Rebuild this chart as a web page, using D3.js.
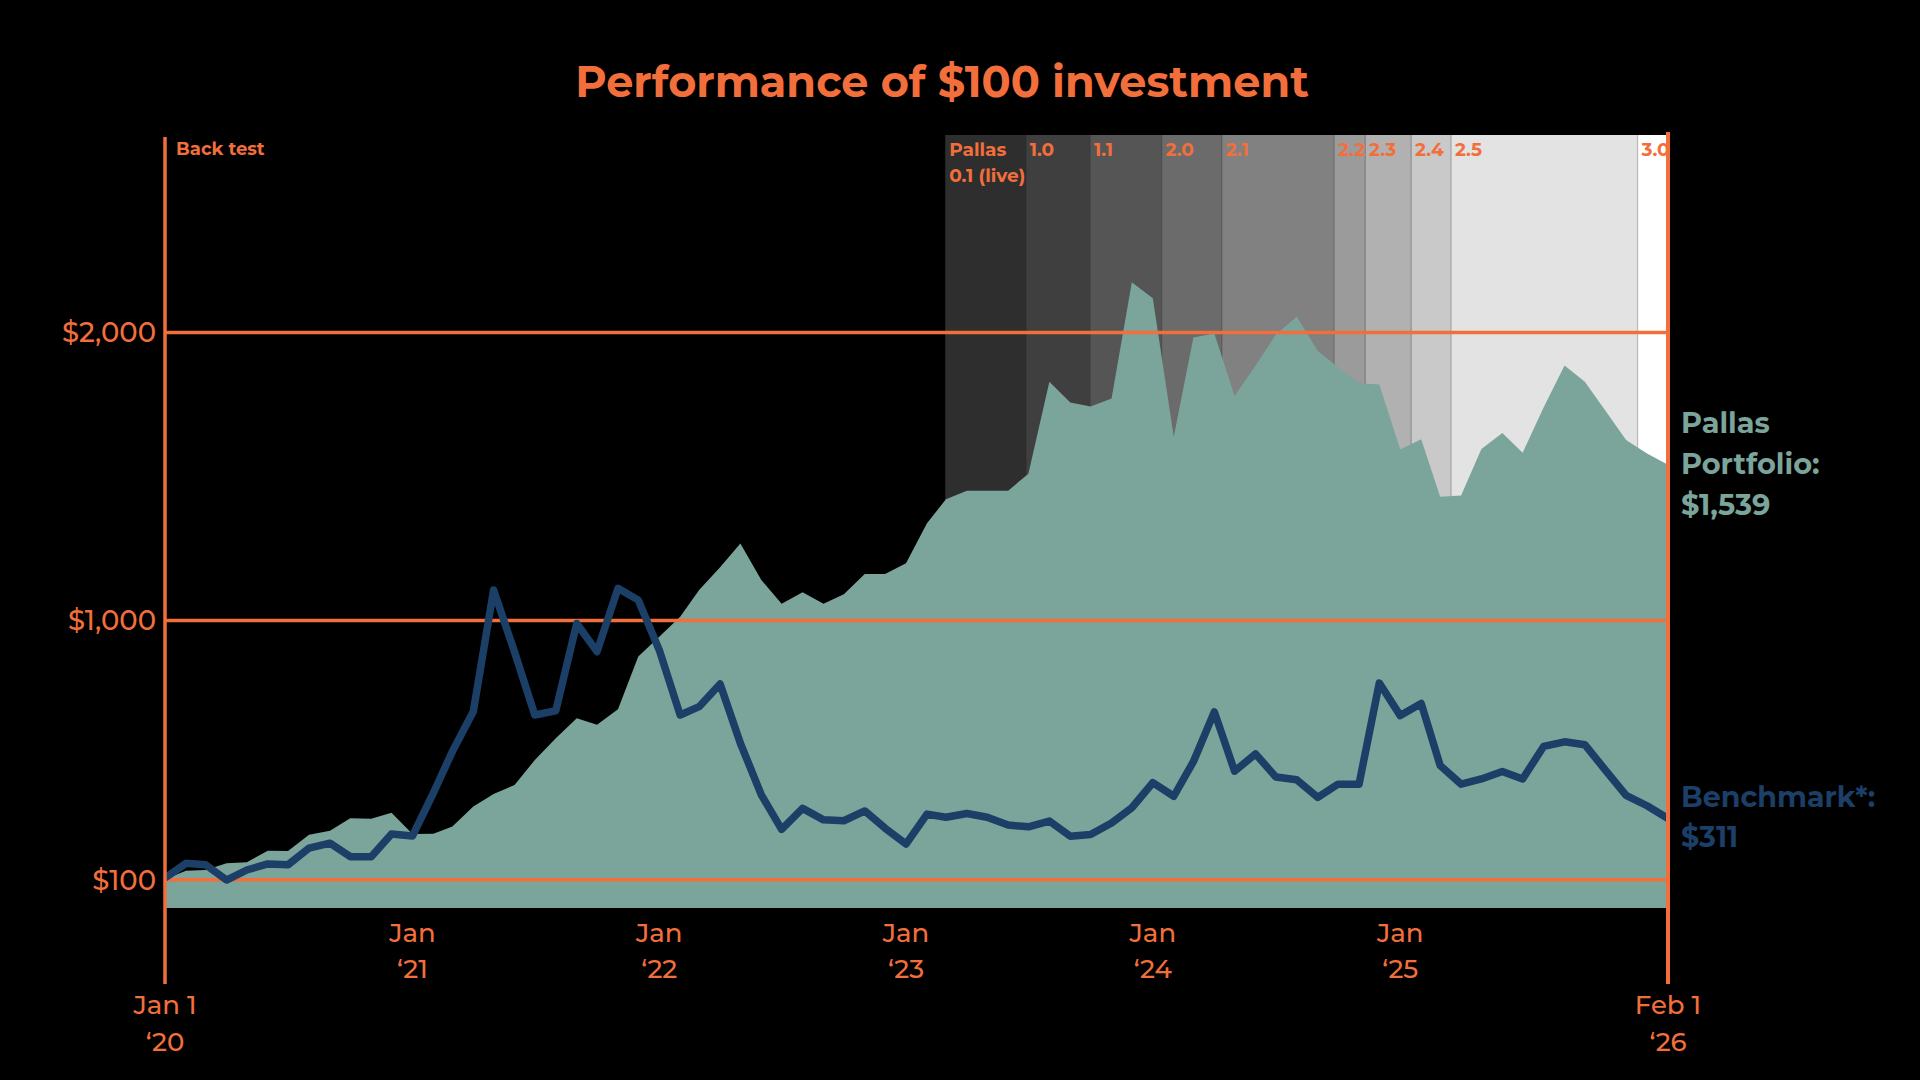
<!DOCTYPE html>
<html>
<head>
    <meta charset="utf-8">
    <script src="https://d3js.org/d3.v7.min.js"></script>
    <title>Performance of $100 investment</title>
    <style>
        body { margin: 0; background: #000; }
        svg text { font-family: Montserrat, "Open Sans", sans-serif; }
    </style>
</head>
<body>
<svg id="chart"></svg>
<script>
// monthly values, Jan 2020 .. Feb 2026
const startMonth = "2020-01-01";
const pallas = [100, 129, 132, 155, 159, 199, 198, 254, 268, 312, 310, 331,
                257, 258, 283, 352, 396, 427, 514, 589, 659, 636, 690, 873,
                942, 1011, 1104, 1183, 1266, 1139, 1056, 1096, 1056, 1089, 1160, 1160,
                1197, 1336, 1419, 1449, 1449, 1449, 1508, 1827, 1755, 1741, 1769, 2173,
                2117, 1636, 1981, 1995, 1778, 1884, 1991, 2053, 1934, 1878, 1822, 1818,
                1592, 1628, 1428, 1432, 1594, 1649, 1581, 1738, 1884, 1827, 1725, 1625,
                1578, 1539];
const benchmark = [104, 155, 150, 97, 132, 153, 150, 208, 225, 178, 178, 257,
                   250, 400, 543, 682, 1104, 889, 670, 685, 988, 890, 1110, 1069,
                   896, 670, 699, 778, 572, 393, 273, 346, 306, 303, 337, 277,
                   222, 326, 315, 328, 315, 288, 282, 302, 249, 255, 295, 348,
                   435, 388, 508, 681, 475, 535, 455, 445, 384, 430, 430, 781,
                   668, 710, 495, 430, 448, 474, 448, 561, 577, 567, 477, 391,
                   355, 311];

// model versions (shaded periods)
const versionNames = ["Pallas|0.1 (live)", "1.0", "1.1", "2.0", "2.1", "2.2", "2.3", "2.4", "2.5", "3.0"];
const versionStarts = ["2023-02-28", "2023-06-27", "2023-09-30", "2024-01-14", "2024-04-12",
                       "2024-09-25", "2024-11-10", "2025-01-17", "2025-03-17", "2025-12-18"];
const endDate = "2026-02-01";

const yTicks = [100, 1000, 2000];
const yTickLabels = ["$100", "$1,000", "$2,000"];
const xTickYears = [2021, 2022, 2023, 2024, 2025];
const pallasLabel = ["Pallas", "Portfolio:", "$1,539"];
const benchLabel = ["Benchmark*:", "$311"];

const shades = ["#2e2e2e", "#3f3f3f", "#555555", "#6b6b6b", "#818181",
                "#9b9b9b", "#b1b1b1", "#c9c9c9", "#e3e3e3", "#ffffff"];
const orange = "#f26f3c", teal = "#7ba49b", navy = "#1b3f66";

const width = 1920, height = 1080;
const plotLeft = 165, plotRight = 1668, plotTop = 135, plotBottom = 908;

const svg = d3.select("svg#chart")
    .attr("width", width)
    .attr("height", height);

svg.append("rect").attr("width", width).attr("height", height).attr("fill", "#000");

const parse = d3.timeParse("%Y-%m-%d");
const t0 = parse(startMonth);
const dates = pallas.map((d, i) => d3.timeMonth.offset(t0, i));

const xScale = d3.scaleTime()
    .domain([t0, parse(endDate)])
    .range([plotLeft, plotRight]);
const yScale = d3.scaleLinear()
    .domain([0, 2684])
    .range([plotBottom, plotTop]);

svg.append("defs").append("clipPath").attr("id", "plotclip")
    .append("rect").attr("x", plotLeft).attr("y", 0)
    .attr("width", plotRight - plotLeft - 2).attr("height", height);

// version bands
const bands = versionStarts.map((s, i) => ({
    name: versionNames[i],
    x0: xScale(parse(s)),
    x1: xScale(parse(i < versionStarts.length - 1 ? versionStarts[i + 1] : endDate)),
    fill: shades[i]
}));

let bandG = svg.append("g");
bandG.selectAll("rect")
    .data(bands)
    .join("rect")
    .attr("x", d => d.x0)
    .attr("y", plotTop)
    .attr("width", d => d.x1 - d.x0)
    .attr("height", plotBottom - plotTop)
    .attr("fill", d => d.fill);
bandG.selectAll("line")
    .data(bands.slice(1))
    .join("line")
    .attr("x1", d => d.x0).attr("x2", d => d.x0)
    .attr("y1", plotTop).attr("y2", plotBottom)
    .attr("stroke", d => d3.color(d.fill).darker(0.9))
    .attr("stroke-width", 1.2);

// Pallas area
const area = d3.area()
    .x((d, i) => xScale(dates[i]))
    .y0(yScale(0))
    .y1(d => yScale(d));

svg.append("path")
    .datum(pallas)
    .attr("d", area)
    .attr("fill", teal);

// gridlines
let grid = d3.axisLeft(yScale)
    .tickValues(yTicks)
    .tickSize(-(plotRight - plotLeft))
    .tickFormat((d, i) => yTickLabels[i]);

let gridG = svg.append("g")
    .attr("transform", `translate(${plotLeft}, 0)`)
    .call(grid);
gridG.select(".domain").remove();
gridG.selectAll(".tick line")
    .attr("stroke", orange)
    .attr("stroke-width", 3.5);
gridG.selectAll(".tick text")
    .attr("x", -9)
    .attr("dy", "0.36em")
    .attr("fill", orange)
    .attr("font-size", 27.5)
    .attr("font-weight", 500);

// benchmark line
const line = d3.line()
    .x((d, i) => xScale(dates[i]))
    .y(d => yScale(d));

svg.append("path")
    .datum(benchmark)
    .attr("d", line)
    .attr("fill", "none")
    .attr("stroke", navy)
    .attr("stroke-width", 7.5)
    .attr("stroke-linejoin", "round");

// side axis lines
svg.append("line")
    .attr("x1", plotLeft).attr("x2", plotLeft)
    .attr("y1", 137).attr("y2", 984)
    .attr("stroke", orange).attr("stroke-width", 3.5);
svg.append("line")
    .attr("x1", plotRight).attr("x2", plotRight)
    .attr("y1", 132).attr("y2", 984)
    .attr("stroke", orange).attr("stroke-width", 4);

// band labels
let labelG = svg.append("g").attr("clip-path", "url(#plotclip)");
bands.forEach(b => {
    let txt = labelG.append("text")
        .attr("x", b.x0 + 4)
        .attr("y", 156)
        .attr("fill", orange)
        .attr("font-size", 18.5)
        .attr("font-weight", 700);
    b.name.split("|").forEach((s, i) => {
        txt.append("tspan").attr("x", b.x0 + 4).attr("dy", i ? 26 : 0).text(s);
    });
});
svg.append("text")
    .attr("x", 176).attr("y", 155)
    .attr("fill", orange)
    .attr("font-size", 18)
    .attr("font-weight", 700)
    .text("Back test");

// x labels
let xg = svg.append("g")
    .attr("fill", orange)
    .attr("font-size", 26)
    .attr("font-weight", 500)
    .attr("text-anchor", "middle");
xTickYears.forEach(yr => {
    let x = xScale(new Date(yr, 0, 1));
    xg.append("text").attr("x", x).attr("y", 942).text("Jan");
    xg.append("text").attr("x", x).attr("y", 978).text("\u2018" + String(yr).slice(2));
});
[[t0, "Jan 1", "\u201820"], [parse(endDate), "Feb 1", "\u201826"]].forEach(d => {
    let x = xScale(d[0]);
    xg.append("text").attr("x", x).attr("y", 1014).text(d[1]);
    xg.append("text").attr("x", x).attr("y", 1051).text(d[2]);
});

// end labels
let pl = svg.append("text")
    .attr("fill", teal)
    .attr("font-size", 28.8)
    .attr("font-weight", 700);
pallasLabel.forEach((s, i) => {
    pl.append("tspan").attr("x", 1681).attr("y", 433 + i * 41).text(s);
});
let bl = svg.append("text")
    .attr("fill", navy)
    .attr("font-size", 28.5)
    .attr("font-weight", 700);
benchLabel.forEach((s, i) => {
    bl.append("tspan").attr("x", 1681).attr("y", 807 + i * 40).text(s);
});

// title
svg.append("text")
    .attr("x", 942).attr("y", 97)
    .attr("text-anchor", "middle")
    .attr("fill", orange)
    .attr("font-size", 43)
    .attr("font-weight", 700)
    .text("Performance of $100 investment");
</script>
</body>
</html>
